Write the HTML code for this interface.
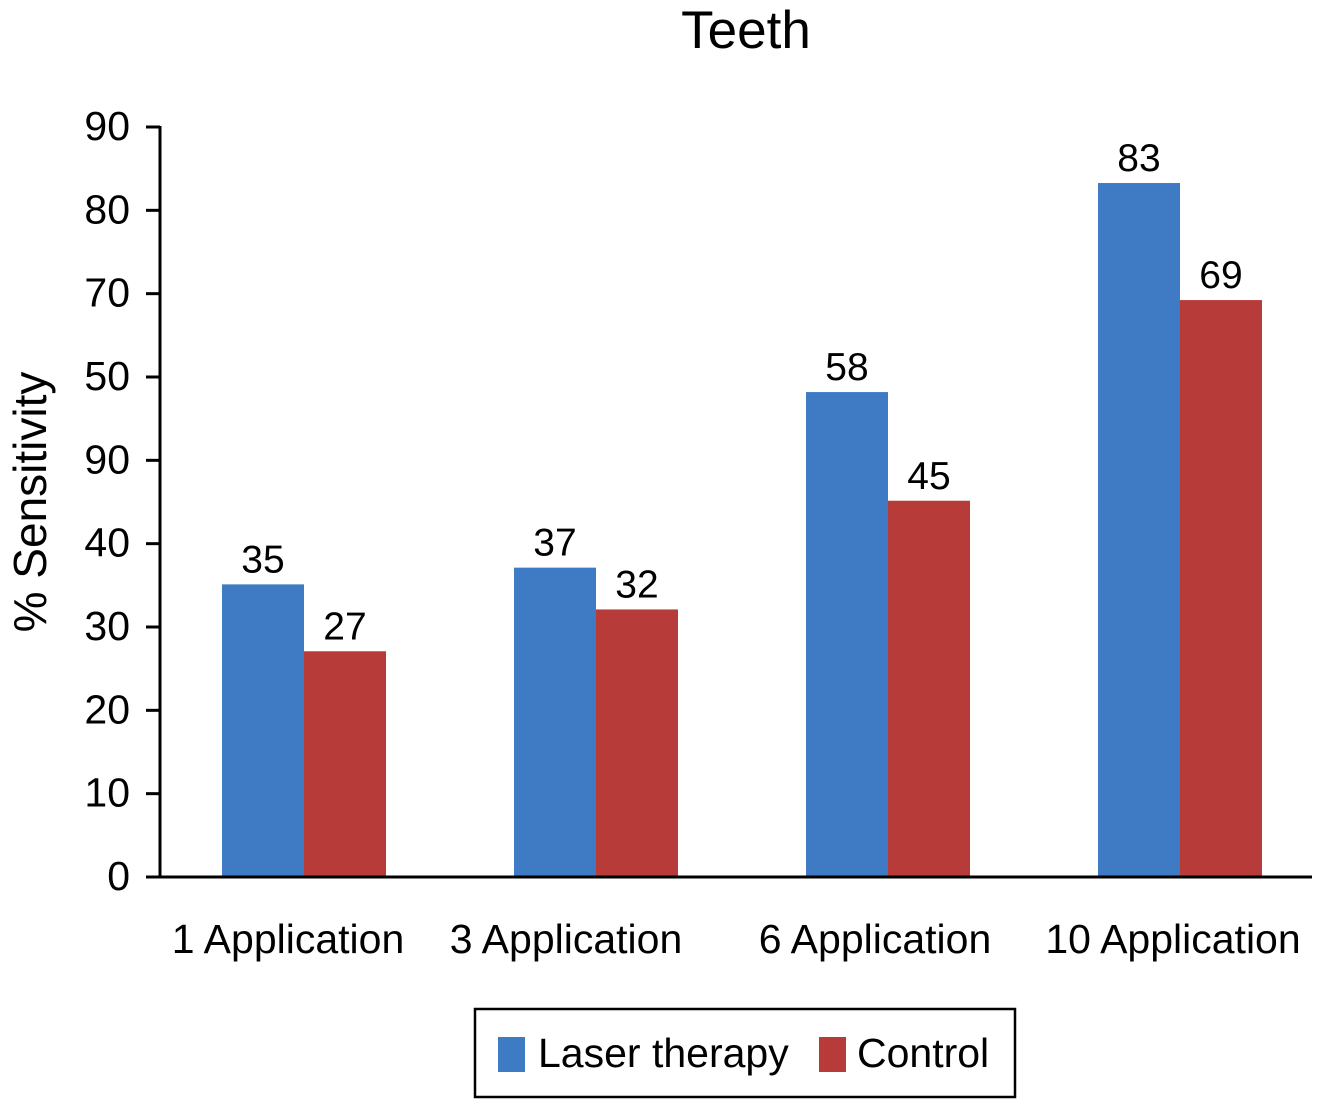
<!DOCTYPE html>
<html><head><meta charset="utf-8"><style>
html,body{margin:0;padding:0;background:#fff;}
svg text{font-family:"Liberation Sans",Arial,sans-serif;fill:#000;}
</style></head><body>
<svg id="chart" width="1329" height="1102" viewBox="0 0 1329 1102" xmlns="http://www.w3.org/2000/svg">
<text x="746" y="48" font-size="53" text-anchor="middle">Teeth</text>
<text transform="translate(46,502) rotate(-90)" font-size="46" text-anchor="middle">% Sensitivity</text>
<g id="plot"></g>
<rect x="475" y="1009" width="540" height="88" fill="#fff" stroke="#000" stroke-width="2.5"/>
<rect x="498" y="1037" width="27" height="35" fill="#3f7bc4"/>
<text x="538" y="1067" font-size="41">Laser therapy</text>
<rect x="819" y="1037" width="27" height="35" fill="#b73b38"/>
<text x="857" y="1067" font-size="41">Control</text>
</svg>
<script>
const categories = ["1 Application","3 Application","6 Application","10 Application"];
const laserValues = [35,37,58,83];
const controlValues = [27,32,45,69];
const tickValues = [0,10,20,30,40,50,60,70,80,90];
const tickLabels = ["0","10","20","30","40","90","50","70","80","90"];

const NS="http://www.w3.org/2000/svg";
const g=document.getElementById('plot');
const x0=158, x1=1326, y0=877, y1=124.5, vmax=90;
const band=(x1-x0)/categories.length;
const yS=v=>y0-(v/vmax)*(y0-y1);
const xC=i=>x0+band*(i+0.5);
const labelShift=[-16,-30,-13,-7];
function mk(t,a){const e=document.createElementNS(NS,t);for(const k in a)e.setAttribute(k,a[k]);g.appendChild(e);return e;}
const bw=82;
categories.forEach((c,i)=>{
  const cx=xC(i);
  const b1=mk('rect',{x:cx-bw,y:yS(laserValues[i]),width:bw,height:y0-yS(laserValues[i]),fill:'#3f7bc4'});
  
  
  const b2=mk('rect',{x:cx,y:yS(controlValues[i]),width:bw,height:y0-yS(controlValues[i]),fill:'#b73b38'});
  
  
  const l1=mk('text',{x:cx-bw/2,y:yS(laserValues[i])-12,'font-size':39,'text-anchor':'middle'});
  l1.textContent=laserValues[i];
  
  
  const l2=mk('text',{x:cx+bw/2,y:yS(controlValues[i])-12,'font-size':39,'text-anchor':'middle'});
  l2.textContent=controlValues[i];
  
  
  const cl=mk('text',{x:cx+labelShift[i],y:953,'font-size':41,'text-anchor':'middle'});
  cl.textContent=c;
  
  
});
tickValues.forEach((v,i)=>{
  const y=y0-(v/90)*(y0-127);
  const t=mk('line',{x1:146,x2:160,y1:y,y2:y,stroke:'#000','stroke-width':3});
  
  
  const tl=mk('text',{x:130,y:y+13,'font-size':41,'text-anchor':'end'});
  tl.textContent=tickLabels[i];
  
  
});
const ya=mk('line',{x1:160,x2:160,y1:126,y2:y0+1.5,stroke:'#000','stroke-width':3});


const xa=mk('line',{x1:146,x2:1312,y1:y0,y2:y0,stroke:'#000','stroke-width':3});


</script>
</body></html>
